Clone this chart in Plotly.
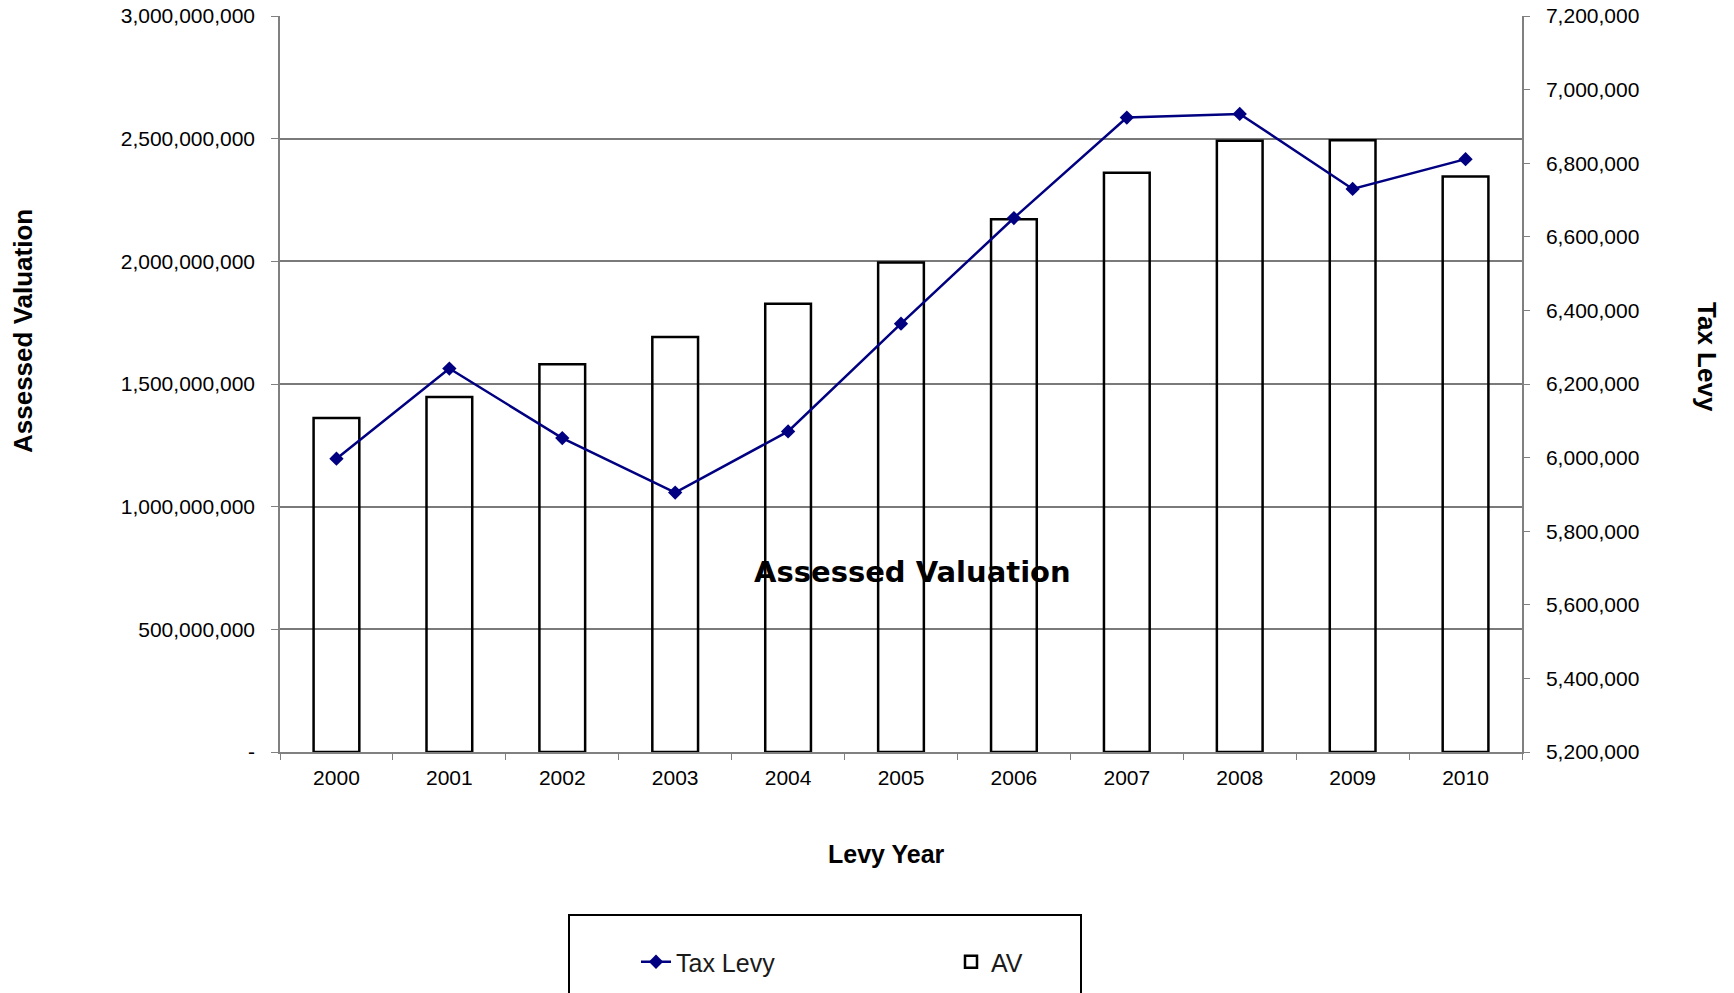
import plotly.graph_objects as go

# ---- data ----
years = ["2000", "2001", "2002", "2003", "2004", "2005", "2006", "2007", "2008", "2009", "2010"]
av_values = [1361e6, 1447e6, 1581e6, 1692e6, 1827e6, 1995e6, 2172e6, 2361e6, 2491e6, 2494e6, 2346e6]
tax_levy = [5997000, 6242000, 6053000, 5905000, 6071000, 6364000, 6651000, 6924000, 6934000, 6730000, 6811000]

left_tickvals = [0, 500e6, 1000e6, 1500e6, 2000e6, 2500e6, 3000e6]
left_ticktext = ["-", "500,000,000", "1,000,000,000", "1,500,000,000", "2,000,000,000",
                 "2,500,000,000", "3,000,000,000"]
right_tickvals = [5200000 + 200000 * i for i in range(11)]

W, H = 1734, 993
L, R, T, B = 280, 212, 16, 241
PW = W - L - R
PH = H - T - B


def px_x(x):
    return (x - L) / PW


def px_y(y):
    return (H - B - y) / PH


BASE = "Liberation Sans, Arial, sans-serif"

fig = go.Figure()

fig.add_trace(go.Scatter(
    x=years, y=tax_levy, name="Tax Levy", yaxis="y2",
    mode="lines+markers",
    line=dict(color="#000080", width=2.5),
    marker=dict(symbol="diamond", size=11, color="#000080"),
))

fig.add_trace(go.Bar(
    x=years, y=av_values, name="AV", yaxis="y",
    width=0.405,
    marker=dict(color="rgba(255,255,255,0)", line=dict(color="black", width=2.5)),
))

fig.update_layout(
    width=W, height=H,
    margin=dict(l=L, r=R, t=T, b=B, pad=0, autoexpand=False),
    paper_bgcolor="white", plot_bgcolor="white",
    font=dict(family=BASE, size=21, color="black"),
    showlegend=True,
    legend=dict(
        orientation="h", x=px_x(636), xanchor="left", y=px_y(962), yanchor="middle",
        font=dict(family="Liberation Sans Narrow, Arial Narrow, Liberation Sans, sans-serif", size=25, color="#1a1a1a"),
        entrywidth=270, entrywidthmode="pixels",
        bgcolor="rgba(0,0,0,0)", borderwidth=0, traceorder="normal",
    ),
    bargap=0.6,
    xaxis=dict(
        type="category", showgrid=False, showline=True, linecolor="#808080", linewidth=1.5,
        ticks="outside", tickson="boundaries", ticklen=6, tickcolor="#808080",
        tickfont=dict(size=21), ticklabelstandoff=6, automargin=False,
        range=[-0.5, 10.5],
    ),
    yaxis=dict(
        range=[0, 3000e6], tickvals=left_tickvals, ticktext=left_ticktext,
        showgrid=True, gridcolor="#7a7a7a", gridwidth=1.5,
        showline=True, linecolor="#808080", linewidth=1.5,
        ticks="outside", ticklen=7, tickcolor="#808080",
        tickfont=dict(size=21), ticklabelstandoff=12, zeroline=False, automargin=False,
    ),
    yaxis2=dict(
        range=[5200000, 7200000], tickvals=right_tickvals, tickformat=",d",
        overlaying="y", side="right", showgrid=False,
        showline=True, linecolor="#808080", linewidth=1.5,
        ticks="outside", ticklen=6, tickcolor="#808080",
        tickfont=dict(size=21), ticklabelstandoff=12, zeroline=False, automargin=False,
    ),
    annotations=[
        dict(text="<b>Assessed Valuation</b>", xref="paper", yref="paper",
             x=px_x(23), y=px_y(331), textangle=-90, showarrow=False,
             xanchor="center", yanchor="middle", font=dict(family=BASE, size=26)),
        dict(text="<b>Tax Levy</b>", xref="paper", yref="paper",
             x=px_x(1707), y=px_y(357), textangle=90, showarrow=False,
             xanchor="center", yanchor="middle", font=dict(family=BASE, size=26)),
        dict(text="<b>Levy Year</b>", xref="paper", yref="paper",
             x=px_x(886), y=px_y(854), showarrow=False,
             xanchor="center", yanchor="middle", font=dict(family=BASE, size=25)),
        dict(text="<b>Assessed Valuation</b>", xref="paper", yref="paper",
             x=px_x(912), y=px_y(572), showarrow=False,
             xanchor="center", yanchor="middle",
             font=dict(family="DejaVu Sans, Verdana, sans-serif", size=29)),
    ],
    shapes=[
        dict(type="rect", xref="paper", yref="paper",
             x0=px_x(569), x1=px_x(1081), y0=px_y(915), y1=px_y(1010),
             line=dict(color="black", width=2), fillcolor="rgba(0,0,0,0)"),
    ],
)

fig.write_html("out.html", config={"displayModeBar": False},
               post_script="document.body.style.margin='0';")
